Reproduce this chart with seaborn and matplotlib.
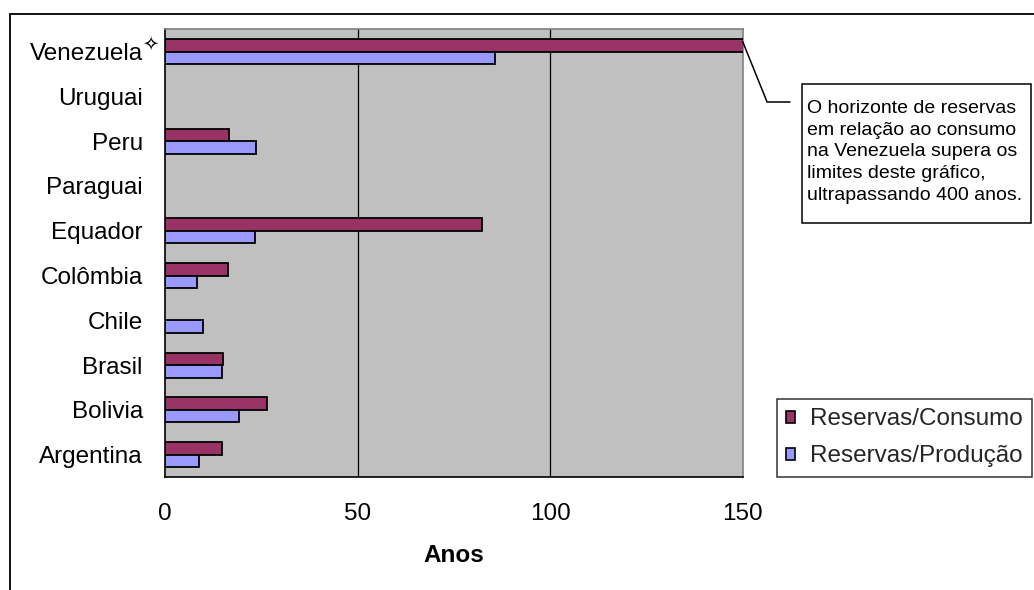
import numpy as np
import pandas as pd
import matplotlib
matplotlib.use("Agg")
import matplotlib.pyplot as plt
from matplotlib.patches import Patch, Rectangle
from matplotlib.ticker import FixedLocator
import seaborn as sns

# Horizonte de reservas de gás natural (anos) por país
paises = ["Venezuela", "Uruguai", "Peru", "Paraguai", "Equador",
          "Colômbia", "Chile", "Brasil", "Bolivia", "Argentina"]
reservas_consumo = [405, np.nan, 16.7, np.nan, 82.3, 16.3, np.nan, 15.1, 26.4, 14.7]
reservas_producao = [85.6, np.nan, 23.7, np.nan, 23.3, 8.2, 9.8, 14.7, 19.2, 8.7]
series = ["Reservas/Consumo", "Reservas/Produção"]
cores = ["#993366", "#9999FF"]
xticks = [0, 50, 100, 150]

sns.set_style("white")
plt.rcParams["font.family"] = ["Liberation Sans", "DejaVu Sans"]

df = pd.DataFrame({
    "País": paises * 2,
    "Anos": reservas_consumo + reservas_producao,
    "Série": [series[0]] * len(paises) + [series[1]] * len(paises),
}).dropna()

W, H = 1034, 590
fig = plt.figure(figsize=(W / 100, H / 100), dpi=100)
fig.patch.set_facecolor("white")

# outer chart frame
fig.patches.append(Rectangle((10 / W, -0.05), 1.1, (H - 14) / H + 0.05,
                             transform=fig.transFigure, fill=False,
                             edgecolor="black", linewidth=1.3))

ax = fig.add_axes([165 / W, 1 - 477 / H, (742.7 - 165) / W, (477 - 29.3) / H])
ax.set_facecolor("#C0C0C0")

sns.barplot(data=df, y="País", x="Anos", hue="Série", order=paises,
            hue_order=series, palette=cores, orient="h", width=0.56,
            saturation=1, edgecolor="black", linewidth=1.3, legend=False,
            ax=ax, zorder=3)

ax.set_xlim(0, 150)
ax.set_ylim(len(paises) - 0.5, -0.5)
ax.set_xticks(xticks)
ax.set_xticklabels([str(t) for t in xticks])
ax.grid(False)
for t in xticks[1:-1]:
    ax.axvline(t, color="black", linewidth=0.9, zorder=1)

# category ticks sit on the boundaries between countries
ax.yaxis.set_minor_locator(FixedLocator(np.arange(-0.5, len(paises), 1.0)))
ax.tick_params(axis="y", which="major", length=0, pad=16, labelsize=17.5, labelcolor="black")
ax.tick_params(axis="y", which="minor", length=8, width=1, color="black", direction="out")
ax.tick_params(axis="x", which="major", length=8, width=1, color="black",
               direction="out", pad=11, labelsize=17.5, labelcolor="black")
ax.tick_params(axis="x", which="minor", length=0)

ax.set_ylabel("")
ax.set_xlabel("Anos", fontsize=17.5, fontweight="bold", color="black")
ax.xaxis.set_label_coords(0.5, (477 - 556) / (477 - 29.3))
ax.xaxis.label.set_va("center")

for side in ("left", "bottom"):
    ax.spines[side].set_color("black")
    ax.spines[side].set_linewidth(1.2)
for side in ("top", "right"):
    ax.spines[side].set_color("#808080")
    ax.spines[side].set_linewidth(1.2)

# marker next to Venezuela
ax.annotate("✧", xy=(0, 0), xycoords=("axes fraction", "data"),
            xytext=(-14.5, 7.5), textcoords="offset pixels",
            ha="center", va="center", fontsize=14, family=["DejaVu Sans"],
            color="black", annotation_clip=False)

# note about the Venezuela bar that runs off the scale
barra_ven = ax.containers[0][0]
y_ini = barra_ven.get_y() + 0.2 * barra_ven.get_height()
ax.annotate("", xy=(150, y_ini), xycoords="data",
            xytext=(790, H - 102), textcoords="figure pixels",
            arrowprops=dict(arrowstyle="-", color="black", linewidth=1.1,
                            shrinkA=0, shrinkB=0,
                            connectionstyle="angle,angleA=0,angleB=-68,rad=0"),
            annotation_clip=False)
fig.patches.append(Rectangle((801.7 / W, 1 - 222.7 / H), (1031 - 801.7) / W,
                             (222.7 - 84) / H, transform=fig.transFigure,
                             facecolor="white", edgecolor="black", linewidth=1.1))
nota = ("O horizonte de reservas\nem relação ao consumo\n"
        "na Venezuela supera os\nlimites deste gráfico,\n"
        "ultrapassando 400 anos.")
fig.text(807 / W, 1 - 152 / H, nota, ha="left", va="center",
         fontsize=14, linespacing=1.37, color="black")

handles = [Patch(facecolor=c, edgecolor="black", linewidth=1.2) for c in cores]
leg = fig.legend(handles, series, loc="lower right",
                 bbox_to_anchor=(1031.7 / W, 1 - 476.7 / H),
                 bbox_transform=fig.transFigure, fontsize=17.5, frameon=True,
                 fancybox=False, shadow=False, borderaxespad=0,
                 handlelength=0.36, handleheight=0.36, handletextpad=0.62,
                 labelspacing=0.62, borderpad=0.38)
leg.get_frame().set_edgecolor("black")
leg.get_frame().set_linewidth(1.1)

fig.savefig("out.png", dpi=100)
